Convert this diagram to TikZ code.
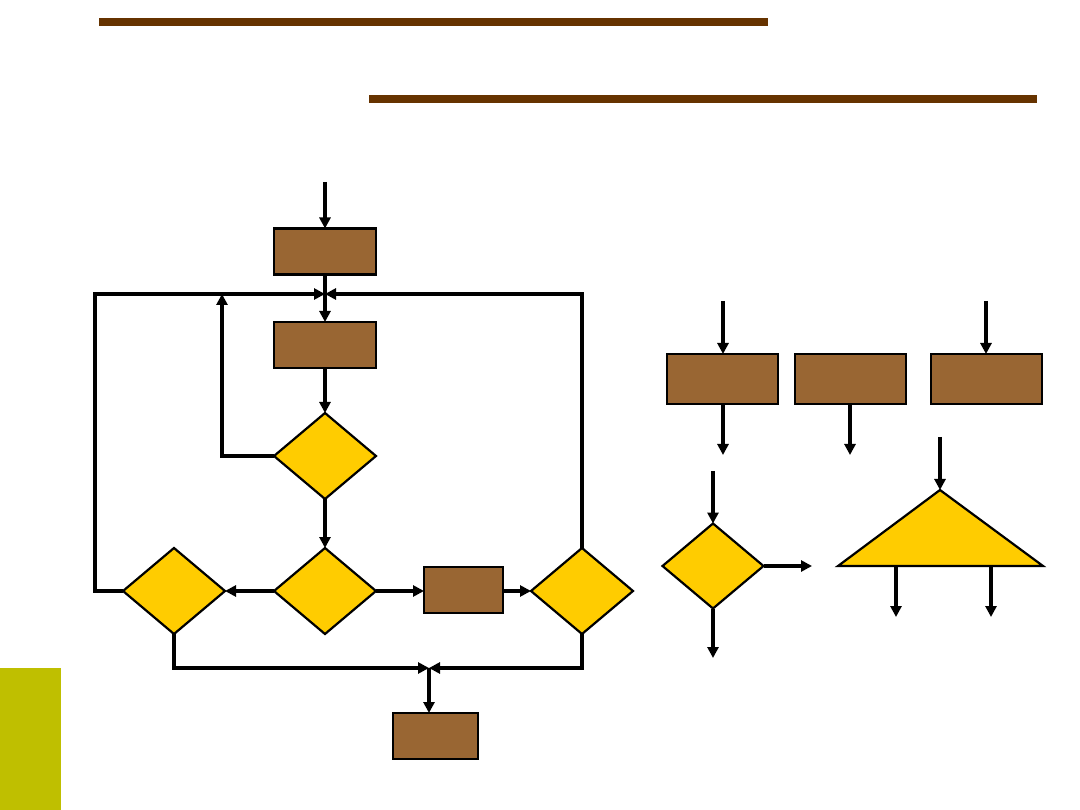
\documentclass[tikz,border=0pt]{standalone}
\usetikzlibrary{arrows.meta,shapes.geometric}
\definecolor{barbrown}{HTML}{663300}
\definecolor{boxbrown}{HTML}{996633}
\definecolor{decyellow}{HTML}{FFCC00}
\definecolor{sidegreen}{HTML}{BFBF00}
\tikzset{
  procbox/.style={draw=black,line width=2.2pt,fill=boxbrown,rectangle,inner sep=0pt,outer sep=0pt},
  decbox/.style={draw=black,line width=2.2pt,fill=decyellow,diamond,inner sep=0pt,outer sep=0pt},
  flow/.style={line width=3.2pt,-{Triangle[length=11pt,width=11pt]}},
}
\begin{document}
\begin{tikzpicture}[x=1pt,y=-1pt]
\useasboundingbox (0,0) rectangle (1080,810);
% decoration bars
\fill[barbrown] (99,18) rectangle (768,26);
\fill[barbrown] (369,95) rectangle (1037,103);
\fill[sidegreen] (0,668) rectangle (61,810);

% ---------- left flowchart ----------
\coordinate (in1) at (325,182);
\node[procbox,minimum width=102pt,minimum height=46pt] (b1) at (325,251.5) {};
\node[procbox,minimum width=102pt,minimum height=46pt] (b2) at (325,345) {};
\node[decbox,minimum width=102pt,minimum height=86pt] (d1) at (325,456) {};
\node[decbox,minimum width=102pt,minimum height=86pt] (d2) at (325,591) {};
\node[decbox,minimum width=102pt,minimum height=86pt] (d3) at (174,591) {};
\node[procbox,minimum width=79pt,minimum height=46pt] (b3) at (463.5,590) {};
\node[decbox,minimum width=102pt,minimum height=86pt] (d4) at (582,591) {};
\node[procbox,minimum width=85pt,minimum height=46pt] (b4) at (435.5,736) {};
\coordinate (j1) at (325,294);
\coordinate (j2) at (429,668);

\draw[flow] (in1) -- (b1.north -| in1);
\draw[flow] (b1.south) -- (b2.north);
\draw[flow] (b2.south) -- (d1.north);
\draw[flow] (d1.south) -- (d2.north);
\draw[flow] (d2.west) -- (d3.east);
\draw[flow] (d2.east) -- (b3.west |- d2.east);
\draw[flow] (b3.east |- d4.west) -- (d4.west);
% loops back to junction j1
\draw[flow] (d3.west) -- (95,591) -- (95,294) -- (j1);
\draw[flow] (d4.north) -- (582,294) -- (j1);
\draw[flow] (d1.west) -- (222,456) -- (222,294);
% exits to j2
\draw[flow] (d3.south) -- (174,668) -- (j2);
\draw[flow] (d4.south) -- (582,668) -- (j2);
\draw[flow] (j2) -- (b4.north -| j2);

% ---------- right side symbols ----------
\node[procbox,minimum width=111pt,minimum height=50pt] (r1) at (722.5,379) {};
\node[procbox,minimum width=111pt,minimum height=50pt] (r2) at (850.5,379) {};
\node[procbox,minimum width=111pt,minimum height=50pt] (r3) at (986.5,379) {};
\coordinate (r1in) at (723,301);
\coordinate (r3in) at (986,301);
\coordinate (r1out) at (723,455);
\coordinate (r2out) at (850,455);
\draw[flow] (r1in) -- (r1.north -| r1in);
\draw[flow] (r3in) -- (r3.north -| r3in);
\draw[flow] (r1.south -| r1out) -- (r1out);
\draw[flow] (r2.south -| r2out) -- (r2out);

\node[decbox,minimum width=101pt,minimum height=85pt] (d5) at (713,566) {};
\coordinate (d5in) at (713,471);
\coordinate (d5right) at (812,566);
\coordinate (d5down) at (713,658);
\draw[flow] (d5in) -- (d5.north);
\draw[flow] (d5.east) -- (d5right);
\draw[flow] (d5.south) -- (d5down);

\coordinate (tapex) at (940,490);
\coordinate (tleft) at (838,566);
\coordinate (tright) at (1043,566);
\draw[line width=2.2pt,fill=decyellow,line join=miter] (tapex) -- (tright) -- (tleft) -- cycle;
\coordinate (tin) at (940,437);
\coordinate (tb1) at (896,566);
\coordinate (tb2) at (991,566);
\coordinate (to1) at (896,617);
\coordinate (to2) at (991,617);
\draw[flow] (tin) -- (tapex);
\draw[flow] (tb1) -- (to1);
\draw[flow] (tb2) -- (to2);
\end{tikzpicture}
\end{document}
